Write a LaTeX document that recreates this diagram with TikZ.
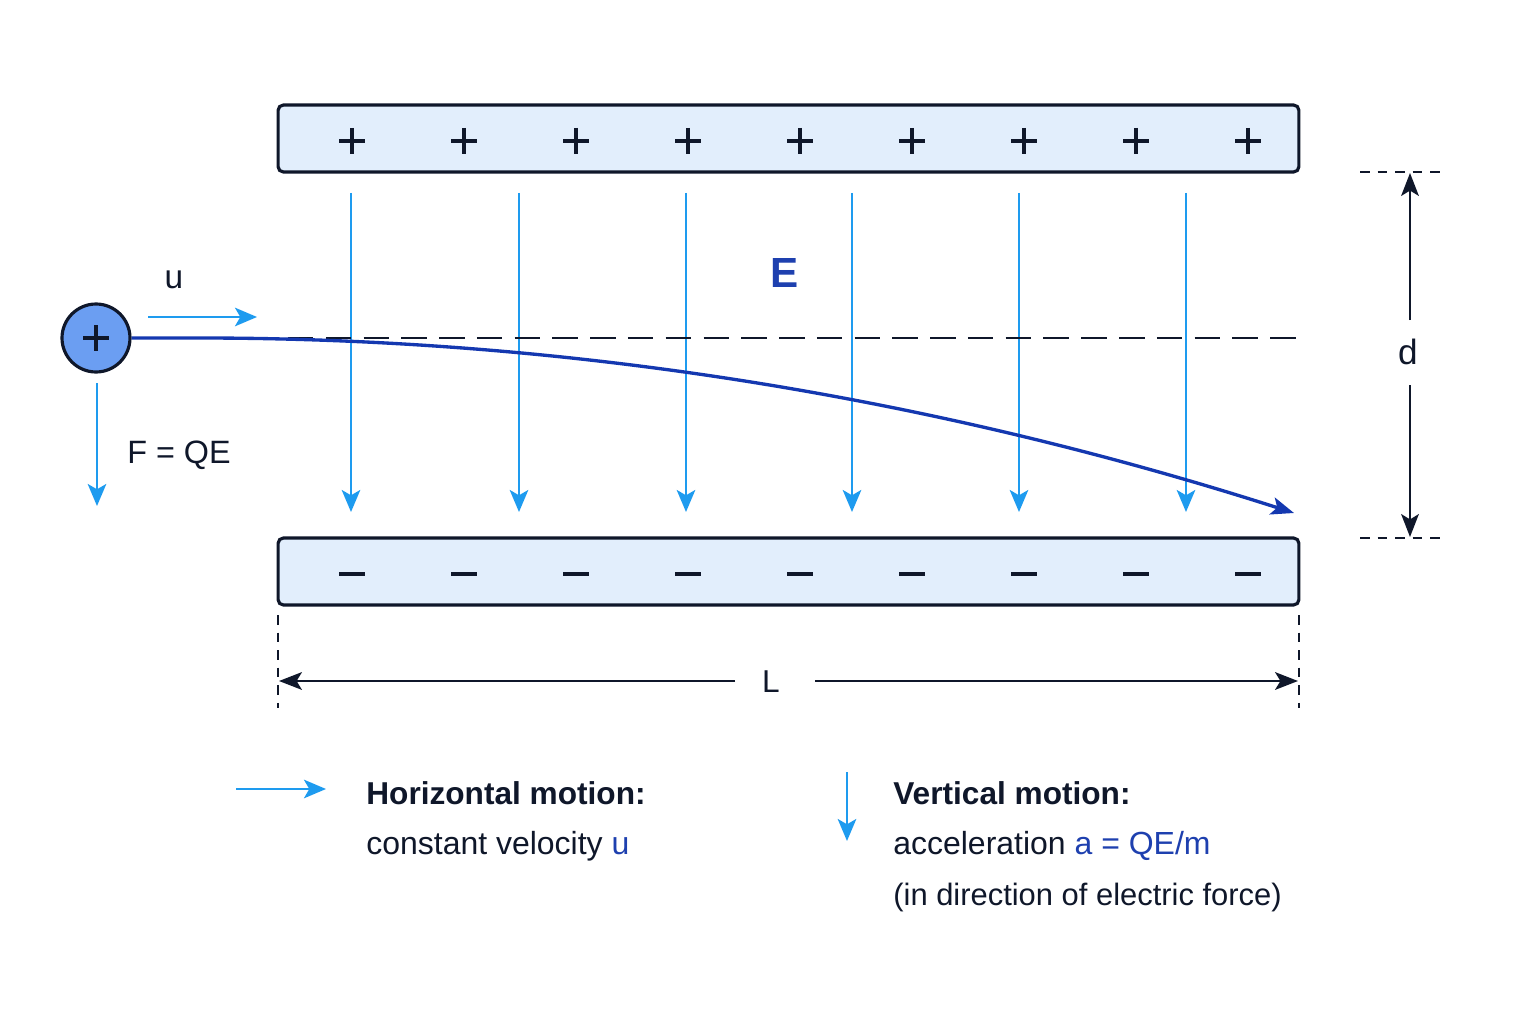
\documentclass[tikz,border=0pt]{standalone}
\usepackage{fontspec}
\setmainfont{Liberation Sans}
\usetikzlibrary{arrows.meta}
\definecolor{navy}{HTML}{0F172A}
\definecolor{platefill}{HTML}{E2EEFC}
\definecolor{field}{HTML}{1E9BEF}
\definecolor{traj}{HTML}{1438B0}
\definecolor{partfill}{HTML}{6B9EF2}
\definecolor{eblue}{HTML}{1E40AF}
\begin{document}
\begin{tikzpicture}[x=0.02cm,y=-0.02cm,
  plate/.style={draw=navy, line width=1.8pt, fill=platefill, rounded corners=3pt,
    minimum width=20.42cm, minimum height=1.34cm, inner sep=0pt},
  sign/.style={navy, line width=2.1pt},
  fieldarrow/.style={field, line width=1.6pt, -{Stealth[length=12.5pt,width=10.5pt,inset=3pt]}},
  dimarrow/.style={navy, line width=1.6pt, -{Stealth[length=13pt,width=10pt,inset=3pt]}},
  dimdash/.style={navy, line width=1.4pt, dash pattern=on 5.5pt off 4.5pt},
  lbl/.style={inner sep=0pt, text=navy},
  txt/.style={inner sep=0pt, anchor=west, text=navy, font=\fontsize{18.2}{22}\selectfont},
  head/.style={inner sep=0pt, anchor=west, text=navy, font=\fontsize{18}{22}\selectfont\bfseries}
]
\useasboundingbox[fill=white] (0,0) rectangle (1536,1024);

% plates
\node[plate] (top) at (788.5,138.5) {};
\node[plate] (bot) at (788.5,571.5) {};
\foreach \x in {352,464,576,688,800,912,1024,1136,1248}{
  \draw[sign] (\x-13,141) -- (\x+13,141) (\x,128) -- (\x,154);
  \draw[sign] (\x-13,574) -- (\x+13,574);
}

% field arrows
\foreach \x [count=\i] in {351,519,686,852,1019,1186}{
  \coordinate (fa\i) at (\x,193);
  \coordinate (fb\i) at (\x,512);
  \draw[fieldarrow] (fa\i) -- (fb\i);
}
\node[lbl, text=eblue, font=\fontsize{24}{28}\selectfont\bfseries] (E) at (785,273) {E};

% dashed reference line
\coordinate (dl0) at (288,338);
\coordinate (dl1) at (1300,338);
\draw[navy, line width=1.3pt, dash pattern=on 14.5pt off 7pt] (dl0) -- (dl1);

% particle
\node[circle, draw=navy, line width=1.8pt, fill=partfill, minimum size=1.36cm, inner sep=0pt] (p) at (96,338) {};
\draw[sign, line width=2.3pt] (83,338) -- (109,338) (96,325) -- (96,351);

% trajectory
\coordinate (t0) at (200,338);
\coordinate (t1) at (1294,513);
\draw[traj, line width=1.9pt, -{Stealth[length=13pt,width=10pt,inset=3pt]}]
  (p.east) -- (t0) .. controls (564.3,338) and (928.7,396) .. (t1);

% velocity and force arrows
\coordinate (u0) at (148,317);
\coordinate (u1) at (257,317);
\draw[fieldarrow] (u0) -- (u1);
\node[lbl, font=\fontsize{19}{22}\selectfont] (ulbl) at (174,280) {u};
\coordinate (f0) at (97,383);
\coordinate (f1) at (97,506);
\draw[fieldarrow] (f0) -- (f1);
\node[lbl, anchor=west, font=\fontsize{18.4}{22}\selectfont] (flbl) at (127,455) {F = QE};

% d dimension
\coordinate (dt0) at (1360,172); \coordinate (dt1) at (1441,172);
\coordinate (db0) at (1360,538); \coordinate (db1) at (1441,538);
\draw[dimdash] (dt0) -- (dt1);
\draw[dimdash] (db0) -- (db1);
\node[lbl, font=\fontsize{20}{24}\selectfont] (d) at (1408,352) {d};
\coordinate (dup) at (1410,173);
\coordinate (ddn) at (1410,537);
\draw[dimarrow] (1410,320) -- (dup);
\draw[dimarrow] (1410,385) -- (ddn);

% L dimension
\coordinate (lv0) at (278,615); \coordinate (lv1) at (278,708);
\coordinate (rv0) at (1299,615); \coordinate (rv1) at (1299,708);
\draw[dimdash] (lv0) -- (lv1);
\draw[dimdash] (rv0) -- (rv1);
\node[lbl, font=\fontsize{18}{22}\selectfont] (L) at (771,682) {L};
\coordinate (la) at (279,681);
\coordinate (ra) at (1298,681);
\draw[dimarrow] (735,681) -- (la);
\draw[dimarrow] (815,681) -- (ra);

% legend
\coordinate (h0) at (236,789); \coordinate (h1) at (326,789);
\draw[fieldarrow] (h0) -- (h1);
\node[head] (hm) at (366,793) {Horizontal motion:};
\node[txt] (cv) at (366,846) {constant velocity \textcolor{eblue}{u}};

\coordinate (v0) at (847,772); \coordinate (v1) at (847,841);
\draw[fieldarrow] (v0) -- (v1);
\node[head] (vm) at (893,793) {Vertical motion:};
\node[txt] (ac) at (893,846) {acceleration \textcolor{eblue}{a = QE/m}};
\node[txt, font=\fontsize{17.6}{22}\selectfont] (dir) at (893,897) {(in direction of electric force)};
\end{tikzpicture}
\end{document}
